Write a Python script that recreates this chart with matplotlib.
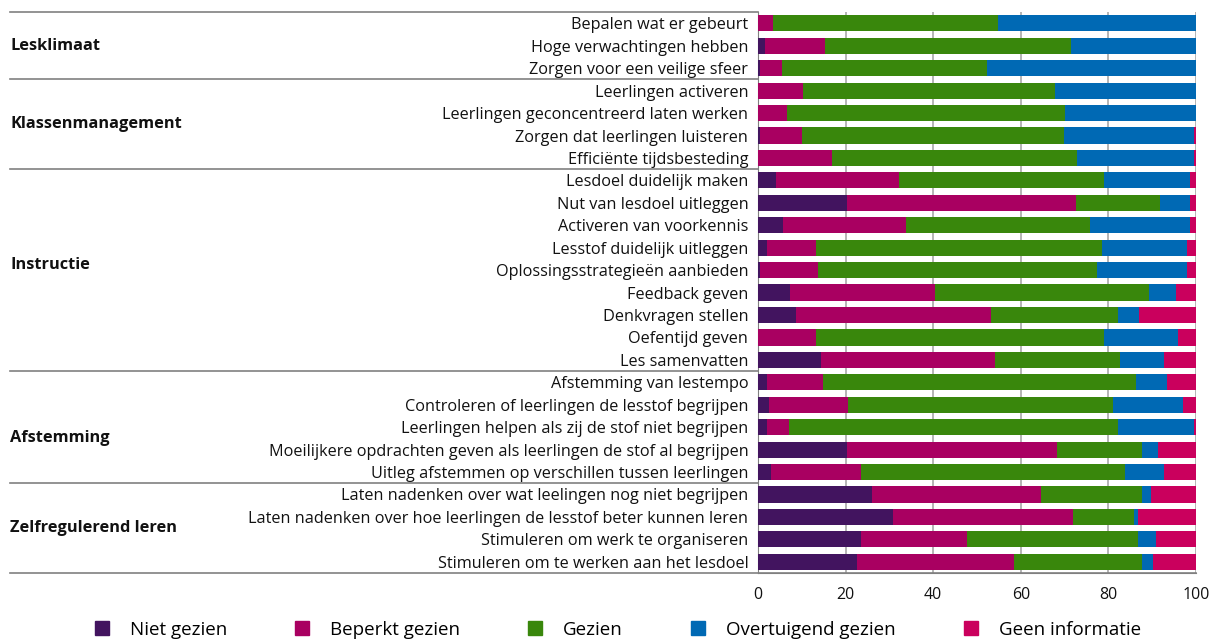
import matplotlib.pyplot as plt
import matplotlib.transforms as mtransforms
from matplotlib.lines import Line2D
import numpy as np

plt.rcParams["font.family"] = ["Open Sans", "DejaVu Sans"]

items = [
    "Bepalen wat er gebeurt",
    "Hoge verwachtingen hebben",
    "Zorgen voor een veilige sfeer",
    "Leerlingen activeren",
    "Leerlingen geconcentreerd laten werken",
    "Zorgen dat leerlingen luisteren",
    "Efficiënte tijdsbesteding",
    "Lesdoel duidelijk maken",
    "Nut van lesdoel uitleggen",
    "Activeren van voorkennis",
    "Lesstof duidelijk uitleggen",
    "Oplossingsstrategieën aanbieden",
    "Feedback geven",
    "Denkvragen stellen",
    "Oefentijd geven",
    "Les samenvatten",
    "Afstemming van lestempo",
    "Controleren of leerlingen de lesstof begrijpen",
    "Leerlingen helpen als zij de stof niet begrijpen",
    "Moeilijkere opdrachten geven als leerlingen de stof al begrijpen",
    "Uitleg afstemmen op verschillen tussen leerlingen",
    "Laten nadenken over wat leelingen nog niet begrijpen",
    "Laten nadenken over hoe leerlingen de lesstof beter kunnen leren",
    "Stimuleren om werk te organiseren",
    "Stimuleren om te werken aan het lesdoel",
]

groups = ["Lesklimaat", "Klassenmanagement", "Instructie", "Afstemming", "Zelfregulerend leren"]
group_sizes = [3, 4, 9, 5, 4]
# row position of each group label (the labels are not exactly centred in the original)
group_label_rows = [1, 4.5, 10.75, 18.5, 22.5]

niet_gezien = [0, 1.5, 0.5, 0, 0, 0.5, 0, 4.0, 20.4, 5.6, 2.1, 0.5, 7.2, 8.7, 0, 14.4,
               2.1, 2.6, 2.1, 20.4, 3.0, 26.1, 30.8, 23.5, 22.5]
beperkt_gezien = [3.5, 13.8, 5.0, 10.2, 6.6, 9.6, 16.8, 28.2, 52.3, 28.1, 11.2, 13.2, 33.2, 44.6, 13.3, 39.8,
                  12.7, 17.9, 5.0, 47.8, 20.5, 38.4, 41.2, 24.3, 36.0]
gezien = [51.4, 56.1, 46.7, 57.5, 63.6, 59.7, 56.0, 46.8, 19.1, 42.2, 65.2, 63.8, 48.9, 28.8, 65.7, 28.4,
          71.4, 60.5, 75.1, 19.5, 60.2, 23.1, 13.8, 38.9, 29.2]
overtuigend = [45.1, 28.6, 47.8, 32.3, 29.8, 29.7, 26.8, 19.6, 6.8, 22.7, 19.4, 20.4, 6.1, 5.0, 16.9, 10.2,
               7.1, 16.0, 17.3, 3.6, 9.1, 2.2, 0.9, 4.1, 2.5]
geen_info = [0, 0, 0, 0, 0, 0.5, 0.4, 1.4, 1.4, 1.4, 2.1, 2.1, 4.6, 12.9, 4.1, 7.2,
             6.7, 3.0, 0.5, 8.7, 7.2, 10.2, 13.3, 9.2, 9.8]

series = ["Niet gezien", "Beperkt gezien", "Gezien", "Overtuigend gezien", "Geen informatie"]
colors = ["#42145f", "#a90061", "#39870c", "#0069b4", "#ca005d"]

fig = plt.figure(figsize=(12.12, 6.39), dpi=100)
ax = fig.add_axes([0.6254, 0.1033, 0.3614, 0.8777])

y = np.arange(len(items))
left = np.zeros(len(items))
for vals, col in zip([niet_gezien, beperkt_gezien, gezien, overtuigend, geen_info], colors):
    ax.barh(y, vals, left=left, height=0.72, color=col, linewidth=0, zorder=3)
    left += np.array(vals)

ax.set_xlim(0, 100)
ax.set_ylim(len(items) - 0.5, -0.5)
ax.set_xticks([0, 20, 40, 60, 80, 100])
ax.set_yticks(y)
ax.set_yticklabels(items, fontsize=11.7, color="#111111")
ax.tick_params(axis="y", length=0, pad=7)
ax.tick_params(axis="x", length=0, pad=10, labelsize=11.5, colors="#111111")
ax.xaxis.grid(True, color="#a0a0a0", linewidth=1.1, zorder=0)
ax.set_axisbelow(True)
for side in ["top", "right"]:
    ax.spines[side].set_visible(False)
ax.spines["left"].set_color("#808080")
ax.spines["bottom"].set_color("#808080")

# group separators and labels to the left of the plot
trans = mtransforms.blended_transform_factory(fig.transFigure, ax.transData)
bounds = np.concatenate([[0], np.cumsum(group_sizes)]) - 0.5
for b in bounds:
    xe = 0.9868 if b == bounds[-1] else 0.6254
    fig.add_artist(Line2D([0.0083, xe], [b, b], transform=trans, color="#808080", linewidth=1.2))
for name, row in zip(groups, group_label_rows):
    fig.text(0.0083, row, name, transform=trans, fontsize=11.8, fontweight="bold",
             va="center", ha="left", color="#111111")

handles = [Line2D([], [], marker="s", linestyle="none", markersize=10, color=c) for c in colors]
fig.legend(handles, series, loc="center", bbox_to_anchor=(0.505, 0.014), ncol=5, frameon=False,
           fontsize=13.5, columnspacing=3.0, handletextpad=0.5)

fig.savefig("out.png", dpi=100)
